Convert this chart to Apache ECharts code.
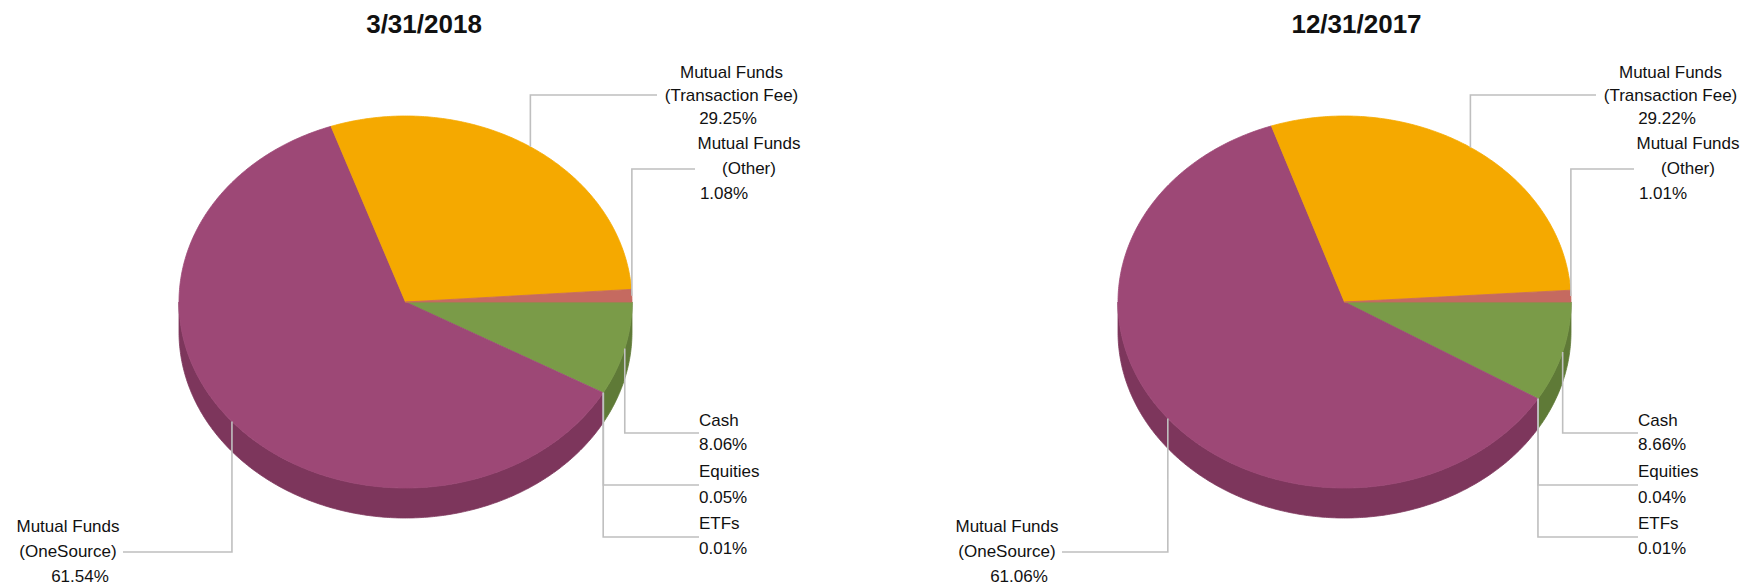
<!DOCTYPE html>
<html>
<head>
<meta charset="utf-8">
<script src="https://cdn.jsdelivr.net/npm/echarts@6/dist/echarts.min.js"></script>
<style>
  html, body { margin: 0; padding: 0; background: #fff; }
  #main { width: 1758px; height: 586px; }
</style>
</head>
<body>
<div id="main"></div>
<script>
// data, clockwise from 3 o'clock
const categories = ['Cash', 'Equities', 'ETFs', 'Mutual Funds\n(OneSource)', 'Mutual Funds\n(Transaction Fee)', 'Mutual Funds\n(Other)'];
const values2018 = [8.06, 0.05, 0.01, 61.54, 29.25, 1.08];
const values2017 = [8.66, 0.04, 0.01, 61.06, 29.22, 1.01];
const dates = ['3/31/2018', '12/31/2017'];

const colors = ['#7A9B48', '#6E8C42', '#8E4470', '#9D4876', '#F5A900', '#C56A60'];
const sideColors = ['#5F7A37', '#566E33', '#6F3556', '#7D365C', '#C28600', '#9C534B'];

// pie geometry
const RX = 226.5, RY = 186, DEPTH = 30;
const pieCenters = [[405.5, 302], [1344.5, 302]];

// label layout relative to pie centre: name x, pct x, first line y, line height, align, leader y, leader end x
const labelLayout = [
  { nx: 293.5, px: 293.5, y: 118, lh: 24, align: 'left', ly: 131, ex: 293.5 },
  { nx: 293.5, px: 293.5, y: 169, lh: 26, align: 'left', ly: 183, ex: 293.5 },
  { nx: 293.5, px: 293.5, y: 221, lh: 25, align: 'left', ly: 235, ex: 293.5 },
  { nx: -337.5, px: -325.5, y: 224, lh: 25, align: 'center', ly: 250, ex: -282.5 },
  { nx: 326, px: 322.5, y: -230, lh: 23, align: 'center', ly: -207, ex: 251.5 },
  { nx: 343.5, px: 318.5, y: -159, lh: 25, align: 'center', ly: -133, ex: 289.5 }
];

const FONT = '"Liberation Sans", Arial, sans-serif';

function arcPts(cx, cy, s, e, dy) {
  const pts = [];
  const n = Math.max(2, Math.ceil((e - s) / 0.01));
  for (let k = 0; k <= n; k++) {
    const t = s + (e - s) * k / n;
    pts.push([cx + RX * Math.cos(t), cy + RY * Math.sin(t) + dy]);
  }
  return pts;
}

function makeRenderItem(vals, center) {
  const total = vals.reduce((a, b) => a + b, 0);
  const cx = center[0], cy = center[1];
  return function (params, api) {
    const i = params.dataIndex;
    let before = 0;
    for (let k = 0; k < i; k++) before += vals[k];
    const v = api.value(0);
    const a0 = before / total * Math.PI * 2;
    const a1 = (before + v) / total * Math.PI * 2;
    const children = [];

    // side wall (front half only)
    const s = Math.max(a0, 0), e = Math.min(a1, Math.PI);
    if (e > s) {
      const top = arcPts(cx, cy, s, e, 0);
      const bot = arcPts(cx, cy, s, e, DEPTH).reverse();
      children.push({
        type: 'polygon', z2: 1,
        shape: { points: top.concat(bot) },
        style: { fill: sideColors[i], stroke: sideColors[i], lineWidth: v > 0.5 ? 0.8 : 0 }
      });
    }
    // top face
    children.push({
      type: 'polygon', z2: 2,
      shape: { points: [[cx, cy]].concat(arcPts(cx, cy, a0, a1, 0)) },
      style: { fill: colors[i], stroke: colors[i], lineWidth: v > 0.5 ? 0.8 : 0 }
    });

    // leader line
    const mid = (a0 + a1) / 2;
    const ax = cx + RX * Math.cos(mid), ay = cy + RY * Math.sin(mid);
    const L = labelLayout[i];
    children.push({
      type: 'polyline', z2: 10,
      shape: { points: [[ax, ay], [ax, cy + L.ly], [cx + L.ex, cy + L.ly]] },
      style: { stroke: '#BFBFBF', lineWidth: 1.6, fill: null }
    });

    // label text
    const lines = categories[i].split('\n');
    lines.forEach((t, k) => {
      children.push({
        type: 'text', z2: 11,
        style: {
          text: t, x: cx + L.nx, y: cy + L.y + k * L.lh,
          fill: '#111', fontSize: 17, fontFamily: FONT,
          align: L.align, verticalAlign: 'middle'
        }
      });
    });
    children.push({
      type: 'text', z2: 11,
      style: {
        text: v.toFixed(2) + '%', x: cx + L.px, y: cy + L.y + lines.length * L.lh,
        fill: '#111', fontSize: 17, fontFamily: FONT,
        align: L.align, verticalAlign: 'middle'
      }
    });

    return { type: 'group', children: children };
  };
}

const chart = echarts.init(document.getElementById('main'), null, { renderer: 'svg' });
const option = {
  animation: false,
  backgroundColor: '#fff',
  title: [
    { text: dates[0], left: 419, top: 6, textAlign: 'center',
      textStyle: { fontSize: 26, fontWeight: 'bold', color: '#111', fontFamily: FONT } },
    { text: dates[1], left: 1351.5, top: 6, textAlign: 'center',
      textStyle: { fontSize: 26, fontWeight: 'bold', color: '#111', fontFamily: FONT } }
  ],
  series: [
    {
      type: 'custom', name: dates[0], coordinateSystem: 'none',
      renderItem: makeRenderItem(values2018, pieCenters[0]),
      data: values2018.map((v, i) => ({ name: categories[i], value: [v] }))
    },
    {
      type: 'custom', name: dates[1], coordinateSystem: 'none',
      renderItem: makeRenderItem(values2017, pieCenters[1]),
      data: values2017.map((v, i) => ({ name: categories[i], value: [v] }))
    }
  ]
};
chart.setOption(option);
window.addEventListener('resize', () => chart.resize());
</script>
</body>
</html>
